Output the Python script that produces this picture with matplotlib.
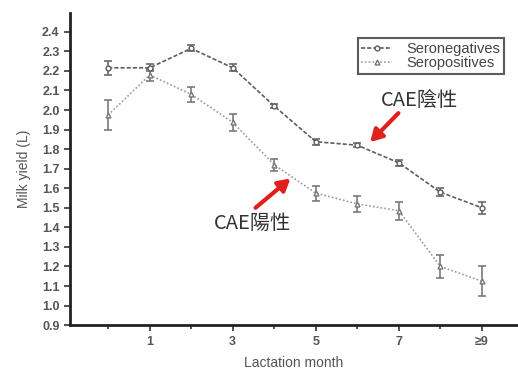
import matplotlib
matplotlib.use("Agg")
import matplotlib.pyplot as plt
from matplotlib.lines import Line2D
import numpy as np

# lactation month (0 .. 9, last one is ">=9")
months = [0, 1, 2, 3, 4, 5, 6, 7, 8, 9]
tick_pos = [1, 3, 5, 7, 9]
tick_labels = ["1", "3", "5", "7", "≥9"]

# milk yield (L) with standard error
neg_mean = [2.216, 2.216, 2.315, 2.216, 2.02, 1.838, 1.82, 1.73, 1.58, 1.50]
neg_err = [0.035, 0.018, 0.015, 0.018, 0.01, 0.015, 0.01, 0.015, 0.022, 0.03]
pos_mean = [1.974, 2.179, 2.08, 1.937, 1.72, 1.575, 1.52, 1.485, 1.20, 1.125]
pos_err = [0.075, 0.03, 0.04, 0.043, 0.03, 0.038, 0.042, 0.045, 0.057, 0.077]

gray_txt = "#555555"
neg_style = dict(color="#5e5e5e", ls=(0, (2.5, 1.2)), lw=1.2, marker="o", ms=3.5,
                 mfc="white", mec="#5e5e5e")
pos_style = dict(color="#9a9a9a", ls=(0, (1, 1.3)), lw=1.2, marker="^", ms=3.5,
                 mfc="white", mec="#777777")

fig = plt.figure(figsize=(5.18, 3.72), dpi=100)
ax = fig.add_axes([0.135, 0.126, 0.865, 0.839])

ax.errorbar(months, neg_mean, yerr=neg_err, ecolor="#6a6a6a", capsize=3, elinewidth=1.2,
            capthick=1.2, **neg_style)
ax.errorbar(months, pos_mean, yerr=pos_err, ecolor="#7a7a7a", capsize=3, elinewidth=1.2,
            capthick=1.2, **pos_style)

ax.set_xlim(-0.92, 9.87)
ax.set_ylim(0.9, 2.496)
ax.set_yticks(np.arange(0.9, 2.41, 0.1))
ax.set_yticklabels(["%.1f" % v for v in np.arange(0.9, 2.41, 0.1)])
ax.set_xticks(tick_pos)
ax.set_xticklabels(tick_labels)
ax.set_xticks([0, 2, 4, 6, 8], minor=True)

for side in ["top", "right"]:
    ax.spines[side].set_visible(False)
for side in ["left", "bottom"]:
    ax.spines[side].set_linewidth(2)
    ax.spines[side].set_color("#222222")

ax.tick_params(axis="both", which="major", length=4, width=1.2, color="#333333",
               labelsize=9, labelcolor=gray_txt)
ax.tick_params(axis="x", which="minor", length=3, width=1.2, color="#333333")
for lab in ax.get_xticklabels() + ax.get_yticklabels():
    lab.set_fontweight("bold")
    lab.set_family(["Liberation Sans", "DejaVu Sans"])

ax.set_xlabel("Lactation month", fontsize=10, color=gray_txt, family="Liberation Sans", labelpad=6)
ax.set_ylabel("Milk yield (L)", fontsize=10, color=gray_txt, family="Liberation Sans", labelpad=8)

handles = [Line2D([], [], **neg_style), Line2D([], [], **pos_style)]
leg = ax.legend(handles, ["Seronegatives", "Seropositives"], loc="upper right",
                bbox_to_anchor=(0.969, 0.92), borderaxespad=0, frameon=True, fancybox=False,
                edgecolor="#333333", handlelength=2.1, borderpad=0.25, labelspacing=0.05,
                handletextpad=1.0, prop={"family": "Liberation Sans", "size": 10.5})
leg.get_frame().set_linewidth(1.5)
for t in leg.get_texts():
    t.set_color("#444444")

# annotations
cjk = ["Noto Sans CJK TC", "DejaVu Sans"]
arrow = dict(arrowstyle="-|>,head_length=0.7,head_width=0.4", color="#e0201c", lw=3,
             shrinkA=0, shrinkB=0)
ax.text(7.5, 2.05, "CAE陰性", ha="center", va="center", fontsize=14.5, color="#333333", family=cjk)
ax.annotate("", xy=(6.31, 1.836), xytext=(6.99, 1.984), arrowprops=arrow)
ax.text(3.48, 1.42, "CAE陽性", ha="center", va="center", fontsize=14.5, color="#333333", family=cjk)
ax.annotate("", xy=(4.39, 1.65), xytext=(3.55, 1.50), arrowprops=arrow)

fig.savefig("out.png", dpi=100)
